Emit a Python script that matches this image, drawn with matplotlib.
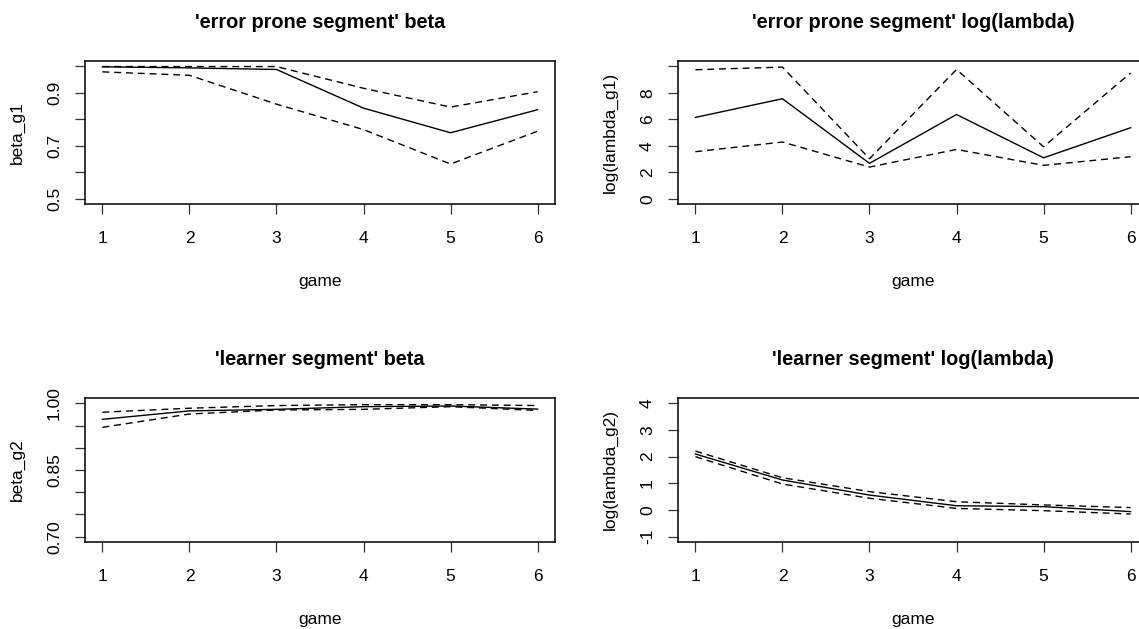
import matplotlib
matplotlib.use("Agg")
import matplotlib.pyplot as plt
import numpy as np

plt.rcParams['font.family'] = ['Liberation Sans', 'DejaVu Sans']

game = [1, 2, 3, 4, 5, 6]

# 'error prone segment' beta
beta_g1_med = [0.998, 0.994, 0.988, 0.842, 0.749, 0.836]
beta_g1_hi = [0.999, 0.999, 0.999, 0.917, 0.846, 0.904]
beta_g1_lo = [0.979, 0.966, 0.857, 0.761, 0.631, 0.755]

# 'error prone segment' log(lambda)
loglam_g1_med = [6.14, 7.55, 2.67, 6.36, 3.09, 5.36]
loglam_g1_hi = [9.74, 9.94, 3.02, 9.76, 3.92, 9.50]
loglam_g1_lo = [3.55, 4.28, 2.39, 3.72, 2.52, 3.17]

# 'learner segment' beta
beta_g2_med = [0.964, 0.983, 0.9865, 0.9925, 0.994, 0.987]
beta_g2_hi = [0.980, 0.989, 0.995, 0.997, 0.997, 0.995]
beta_g2_lo = [0.946, 0.976, 0.985, 0.9865, 0.9925, 0.984]

# 'learner segment' log(lambda)
loglam_g2_med = [2.10, 1.125, 0.56, 0.16, 0.125, -0.06]
loglam_g2_hi = [2.21, 1.21, 0.69, 0.31, 0.19, 0.09]
loglam_g2_lo = [2.00, 0.975, 0.44, 0.06, -0.025, -0.15]

W, H = 1139, 629
fig = plt.figure(figsize=(W / 100, H / 100), dpi=100)


def px_axes(left, right, top, bottom):
    return fig.add_axes([left / W, 1 - bottom / H, (right - left) / W, (bottom - top) / H])


panels = [
    # (box px, title, ylabel, series, ylim, yticks, ytick labels)
    ((85, 555, 61, 204), "'error prone segment' beta", "beta_g1",
     (beta_g1_med, beta_g1_hi, beta_g1_lo), (0.5, 1.0),
     [0.5, 0.6, 0.7, 0.8, 0.9, 1.0], ['0.5', '', '0.7', '', '0.9', '']),
    ((678, 1148, 61, 204), "'error prone segment' log(lambda)", "log(lambda_g1)",
     (loglam_g1_med, loglam_g1_hi, loglam_g1_lo), (0, 10),
     [0, 2, 4, 6, 8, 10], ['0', '2', '4', '6', '8', '']),
    ((85, 555, 398, 542), "'learner segment' beta", "beta_g2",
     (beta_g2_med, beta_g2_hi, beta_g2_lo), (0.7, 1.0),
     [0.70, 0.75, 0.80, 0.85, 0.90, 0.95, 1.00], ['0.70', '', '', '0.85', '', '', '1.00']),
    ((678, 1148, 398, 542), "'learner segment' log(lambda)", "log(lambda_g2)",
     (loglam_g2_med, loglam_g2_hi, loglam_g2_lo), (-1, 4),
     [-1, 0, 1, 2, 3, 4], ['-1', '0', '1', '2', '3', '4']),
]

for box, title, ylab, (med, hi, lo), ylim, yticks, ylabels in panels:
    ax = px_axes(*box)
    ax.plot(game, med, '-', color='black', linewidth=1.0)
    ax.plot(game, hi, '--', color='black', linewidth=1.0, dashes=(5, 3.5))
    ax.plot(game, lo, '--', color='black', linewidth=1.0, dashes=(5, 3.5))

    # R style 4% padding
    ax.set_xlim(1 - 0.04 * 5, 6 + 0.04 * 5)
    pad = 0.04 * (ylim[1] - ylim[0])
    ax.set_ylim(ylim[0] - pad, ylim[1] + pad)

    ax.set_xticks(game)
    ax.set_xticklabels([str(g) for g in game])
    ax.set_yticks(yticks)
    ax.set_yticklabels(ylabels, rotation=90, va='center')

    ax.tick_params(axis='both', direction='out', length=7.5, width=0.9,
                   labelsize=12.5, color='#333333')
    ax.tick_params(axis='x', pad=12)
    ax.tick_params(axis='y', pad=9)
    for s in ax.spines.values():
        s.set_linewidth(1.1)

    ax.set_title(title, fontsize=14.3, fontweight='bold', pad=24)
    ax.set_xlabel('game', fontsize=12.5, labelpad=20)
    ax.set_ylabel(ylab, fontsize=12.5, labelpad=16)

fig.savefig('out.png', dpi=100)
